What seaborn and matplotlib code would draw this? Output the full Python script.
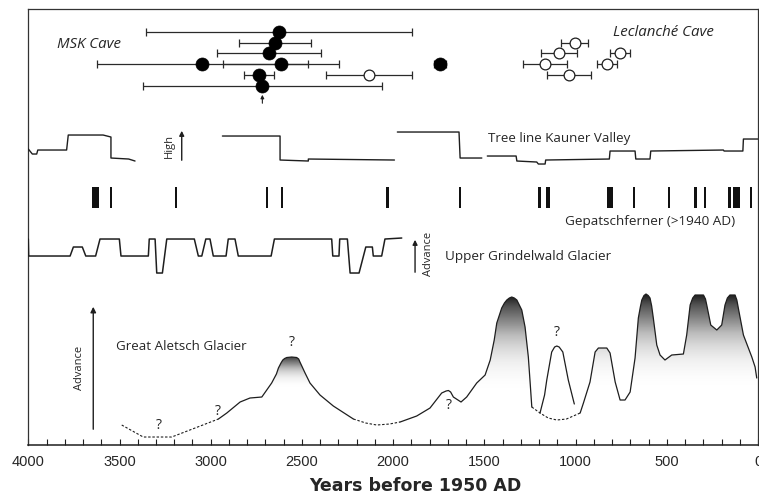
import numpy as np
import pandas as pd
import matplotlib
matplotlib.use('Agg')
import matplotlib.pyplot as plt
import seaborn as sns

# ---- cave dates (years before 1950 AD), row 1 = top row ----
msk_year  = [2624, 2648, 2680, 3046, 2615, 1743, 2734, 2717]
msk_old   = [3356, 2847, 2967, 3623, 2933, 1776, 2815, 3373]
msk_young = [1895, 2448, 2394, 2468, 2297, 1710, 2653, 2061]
msk_row   = [1, 2, 3, 4, 4, 4, 5, 6]

lec_year  = [1003, 1090, 756, 1169, 826, 1035, 2130]
lec_old   = [1078, 1188, 811, 1288, 884, 1158, 2366]
lec_young = [932, 994, 701, 1045, 771, 917, 1895]
lec_row   = [2, 3, 3, 4, 4, 5, 5]

# ---- tree line Kauner Valley (relative height) ----
tree_a_yr = [4000, 3978, 3954, 3948, 3790, 3781, 3590, 3547, 3547, 3450, 3415]
tree_a_h  = [296, 291, 291, 295, 295, 310, 310, 308, 287, 286, 284]
tree_b_yr = [2936, 2620, 2620, 2465, 2465, 1993]
tree_b_h  = [309, 309, 285, 284, 286, 285]
tree_c_yr = [1977, 1639, 1633, 1514]
tree_c_h  = [313, 313, 287, 287]
tree_d_yr = [1484, 1326, 1322, 1213, 1204, 1167, 1164, 815, 811, 674, 670, 592, 588, 190, 186, 83, 80, 0]
tree_d_h  = [289, 289, 284, 283, 281, 281, 285, 286, 294, 294, 286, 286, 294, 295, 294, 294, 306, 306]

# ---- Gepatschferner advances ----
gep_start = [3649, 3547, 3192, 2691, 2611, 2032, 1633, 1198, 1163, 829, 679, 489, 343, 290, 157, 135, 38]
gep_end   = [3612, 3547, 3192, 2691, 2611, 2032, 1633, 1198, 1140, 793, 679, 489, 343, 290, 157, 98, 38]

# ---- Upper Grindelwald Glacier ----
grin_yr = [4000, 3998, 3771, 3753, 3704, 3685, 3631, 3607, 3501, 3492,
           3342, 3337, 3305, 3296, 3265, 3241, 3090, 3068, 3049, 3027,
           3004, 2986, 2916, 2904, 2867, 2849, 2669, 2651, 2337, 2331,
           2297, 2293, 2251, 2236, 2187, 2150, 2114, 2109, 2063, 2045, 1953]
grin_h = [206, 189, 189, 198, 198, 189, 189, 206, 206, 189,
          189, 206, 206, 172, 172, 206, 206, 189, 189, 206,
          206, 189, 189, 206, 206, 189, 189, 206, 206, 189,
          189, 206, 206, 172, 172, 198, 198, 189, 189, 206, 207]

# ---- Great Aletsch Glacier ----
al_d1_yr = [3488, 3370, 3214, 2958]
al_d1_h  = [20, 8, 8, 26]
al_s1_yr = [2958, 2912, 2839, 2785, 2720, 2666, 2640, 2629, 2615, 2605, 2595, 2583, 2556,
            2529, 2518, 2511, 2483, 2456, 2401, 2328, 2218]
al_s1_h  = [26, 32, 43, 47, 48, 62, 71, 77, 82, 85, 86.5, 87.5, 88,
            87.5, 86, 83, 72, 62, 50, 39, 26]
al_d2_yr = [2218, 2150, 2090, 2020, 1962]
al_d2_h  = [26, 22, 20, 21, 23]
al_s2_yr = [1962, 1871, 1798, 1734, 1710, 1697, 1685, 1670, 1628, 1597, 1542, 1496, 1468,
            1446, 1432, 1405, 1390, 1377, 1363, 1350, 1336, 1322, 1295, 1277, 1259, 1249, 1240]
al_s2_h  = [23, 29, 37, 52, 54, 54.5, 53, 48, 43, 48, 62, 70, 85,
            105, 122, 137, 142, 145, 147, 148, 147, 145, 135, 118, 88, 62, 38]
al_d3_yr = [1240, 1195, 1150, 1103, 1050, 975]
al_d3_h  = [38, 32, 27, 25, 26, 32]
al_q_yr  = [1195, 1170, 1158, 1131, 1115, 1103, 1090, 1070, 1040, 1007]
al_q_h   = [32, 50, 65, 93, 98, 99, 98, 93, 65, 41]
al_s3_yr = [975, 957, 921, 893, 875, 829, 811, 783, 756, 729,
            701, 674, 656, 645, 637, 625, 614, 602, 592, 583, 574, 555, 537, 510,
            473, 409, 391, 372, 358, 345, 299, 288, 281, 259, 226, 199,
            181, 168, 154, 126, 116, 108, 80, 34, 16, 7]
al_s3_h  = [32, 42, 63, 93, 97, 97, 92, 63, 45, 45,
            53, 87, 127, 138, 145, 149.5, 151, 149.5, 147, 139, 127, 100, 90, 85,
            90, 91, 110, 140, 147, 150, 150, 146, 140, 120, 115, 120,
            140, 147, 150, 150, 145, 137, 110, 88, 78, 67]

question_yr = [3282, 2963, 2556, 1697, 1103]
question_h  = [20, 34, 103, 40, 113]

row_h = {1: 413, 2: 402, 3: 392, 4: 381, 5: 370, 6: 359}

sns.set_theme(style='white')
plt.rcParams['font.family'] = ['Open Sans', 'DejaVu Sans']

fig = plt.figure(figsize=(7.59, 4.96), dpi=100)
ax = fig.add_axes([0.0373, 0.1028, 0.9614, 0.879])
ink = '#1e1e1e'


def trace(x, y, dashed=False, lw=1.0):
    sns.lineplot(x=x, y=y, sort=False, estimator=None, ax=ax, color=ink, lw=lw,
                 linestyle=(0, (2.2, 1.6)) if dashed else '-', zorder=3)


def shade(x, y, lo, hi, dark):
    poly = ax.fill_between(x, y, 0, color='none', lw=0)
    ramp = (dark * np.linspace(0, 1, 256) ** 1.6).reshape(-1, 1)
    im = ax.imshow(ramp, cmap='Greys', vmin=0, vmax=1, origin='lower', aspect='auto',
                   extent=[min(x), max(x), lo, hi], zorder=1)
    im.set_clip_path(poly.get_paths()[0], transform=ax.transData)


# caves
for yrs, old, young, rows in [(msk_year, msk_old, msk_young, msk_row),
                              (lec_year, lec_old, lec_young, lec_row)]:
    yy = [row_h[r] for r in rows]
    ax.errorbar(yrs, yy, xerr=[np.subtract(yrs, young), np.subtract(old, yrs)], fmt='none',
                ecolor='#2a2a2a', elinewidth=0.9, capsize=3, capthick=0.9, zorder=2)
sns.scatterplot(x=msk_year, y=[row_h[r] for r in msk_row], ax=ax, color='black', s=88,
                edgecolor='black', linewidth=0.5, zorder=4)
sns.scatterplot(x=lec_year, y=[row_h[r] for r in lec_row], ax=ax, color='white', s=60,
                edgecolor=ink, linewidth=0.9, zorder=4)
ax.text(3843, 401, 'MSK Cave', style='italic', fontsize=10.8, va='center')
ax.text(794, 413, 'Leclanché Cave', style='italic', fontsize=10.8, va='center')
ax.annotate('', xy=(2717, 353), xytext=(2717, 339),
            arrowprops=dict(arrowstyle='-|>', lw=0.8, color=ink, mutation_scale=5))

# tree line
for x, y in [(tree_a_yr, tree_a_h), (tree_b_yr, tree_b_h), (tree_c_yr, tree_c_h), (tree_d_yr, tree_d_h)]:
    trace(x, y)
ax.annotate('', xy=(3159, 317), xytext=(3159, 282),
            arrowprops=dict(arrowstyle='-|>', lw=1, color=ink, mutation_scale=7))
ax.text(3227, 299, 'High', rotation=90, fontsize=8, ha='center', va='center')
ax.text(1480, 307, 'Tree line Kauner Valley', fontsize=9.6, va='center')

# Gepatschferner
gep_w = np.maximum(np.subtract(gep_start, gep_end), 13)
gep_mid = (np.array(gep_start) + np.array(gep_end)) / 2
ax.bar(gep_mid, 21, width=gep_w, bottom=237, color='#111', lw=0, zorder=2)
ax.text(1058, 224, 'Gepatschferner (>1940 AD)', fontsize=9.7, va='center')

# Grindelwald
trace(grin_yr, grin_h, lw=1.1)
ax.annotate('', xy=(1880, 208), xytext=(1880, 170),
            arrowprops=dict(arrowstyle='-|>', lw=1, color=ink, mutation_scale=7))
ax.text(1807, 191, 'Advance', rotation=90, fontsize=8, ha='center', va='center')
ax.text(1715, 189, 'Upper Grindelwald Glacier', fontsize=9.7, va='center')

# Great Aletsch
shade(al_s1_yr, al_s1_h, 58, 89, 0.85)
shade(al_s2_yr, al_s2_h, 55, 149, 0.9)
shade(al_s3_yr, al_s3_h, 58, 152, 0.92)
for x, y in [(al_s1_yr, al_s1_h), (al_s2_yr, al_s2_h), (al_q_yr, al_q_h), (al_s3_yr, al_s3_h)]:
    trace(x, y, lw=0.9)
for x, y in [(al_d1_yr, al_d1_h), (al_d2_yr, al_d2_h), (al_d3_yr, al_d3_h)]:
    trace(x, y, dashed=True, lw=0.8)
for x, y in zip(question_yr, question_h):
    ax.text(x, y, '?', fontsize=10, ha='center', va='center')
ax.annotate('', xy=(3644, 141), xytext=(3644, 13),
            arrowprops=dict(arrowstyle='-|>', lw=1, color=ink, mutation_scale=8))
ax.text(3717, 77, 'Advance', rotation=90, fontsize=8, ha='center', va='center')
ax.text(3519, 99, 'Great Aletsch Glacier', fontsize=9.6, va='center')

ax.set_xlim(4000, 0)
ax.set_ylim(0, 436)
ax.set_xticks(range(0, 4001, 500))
ax.set_xticks(range(0, 4001, 100), minor=True)
ax.set_yticks([])
ax.tick_params(axis='x', which='both', direction='in', length=4, width=0.8, color=ink,
               bottom=True, pad=7, labelsize=10.5, labelfontfamily='Liberation Sans')
ax.set_xlabel('Years before 1950 AD', fontsize=12.5, fontweight='bold', family='DejaVu Sans')
ax.xaxis.set_label_coords(0.53, -0.074)
for s in ax.spines.values():
    s.set_color('#333')
    s.set_linewidth(0.9)
ax.spines['bottom'].set_color(ink)
ax.spines['bottom'].set_linewidth(1.1)

fig.savefig('out.png', dpi=100)
